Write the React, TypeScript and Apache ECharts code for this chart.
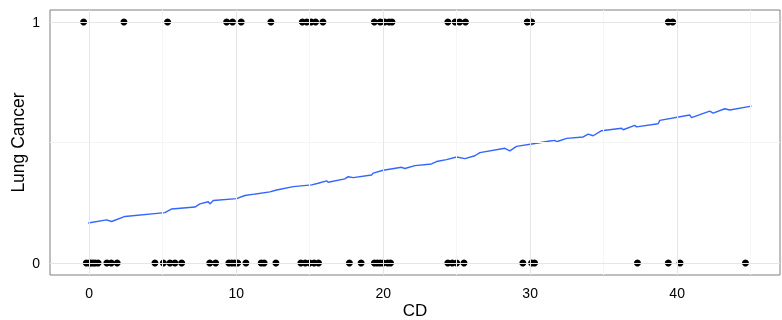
import React, { useEffect, useRef } from "react";
import * as echarts from "echarts";

const xTicks = [0, 10, 20, 30, 40];
const xMinorGrid = [5, 15, 25, 35, 45];
const yTicks = [0, 1];
const yMinorGrid = [0.5];

const cdLung1 = [-0.38, 2.36, 5.33, 9.35, 9.75, 10.34, 12.36, 14.5, 14.8, 15.1, 15.4, 15.9, 19.4, 19.8, 20.1, 20.4, 20.6, 24.4, 24.9, 25.2, 25.6, 29.8, 30.1, 39.4, 39.7];
const cdLung0 = [-0.2, 0, 0.1, 0.25, 0.4, 0.6, 1.2, 1.5, 1.9, 4.47, 5.04, 5.49, 5.83, 6.29, 8.2, 8.6, 9.5, 9.7, 9.9, 10.1, 10.66, 11.7, 11.9, 12.7, 14.4, 14.7, 15.0, 15.3, 15.6, 17.7, 18.5, 19.4, 19.6, 19.8, 20.0, 20.3, 20.5, 24.4, 24.7, 25.0, 25.5, 29.5, 30.1, 30.3, 37.3, 39.4, 40.2, 44.65];

const fitX = [-0.07, 1.18, 1.52, 2.43, 5.15, 5.61, 7.19, 7.53, 8.10, 8.21, 8.44, 10.03, 10.59, 12.29, 12.75, 13.88, 15.13, 15.58, 16.15, 16.26, 17.39, 17.62, 17.96, 19.21, 19.32, 20.0, 21.25, 21.48, 22.16, 23.29, 23.63, 24.31, 25.0, 25.56, 26.24, 26.58, 28.28, 28.62, 29.07, 30.44, 31.34, 31.68, 31.80, 32.48, 33.61, 33.95, 34.29, 34.86, 36.22, 36.33, 37.12, 37.24, 38.71, 38.82, 40.86, 40.98, 42.22, 42.45, 43.24, 43.58, 45.06];
const fitY = [0.166, 0.179, 0.172, 0.193, 0.209, 0.224, 0.232, 0.245, 0.254, 0.245, 0.259, 0.267, 0.280, 0.295, 0.303, 0.317, 0.324, 0.331, 0.341, 0.335, 0.349, 0.358, 0.354, 0.365, 0.373, 0.385, 0.397, 0.392, 0.404, 0.411, 0.421, 0.429, 0.440, 0.433, 0.445, 0.458, 0.476, 0.465, 0.484, 0.497, 0.506, 0.509, 0.503, 0.517, 0.523, 0.535, 0.528, 0.549, 0.559, 0.553, 0.571, 0.565, 0.578, 0.592, 0.614, 0.603, 0.630, 0.622, 0.640, 0.635, 0.651];

const FONT = "'Liberation Sans', Arial, sans-serif";

export default function App() {
  const ref = useRef<HTMLDivElement>(null);
  useEffect(() => {
    if (!ref.current) return;
    const chart = echarts.init(ref.current, null, { renderer: "svg" });
    const points = [
      ...cdLung0.map((x) => [x, 0]),
      ...cdLung1.map((x) => [x, 1]),
    ];
    const lineData = fitX.map((x, i) => [x, fitY[i]]);
    const gridLines = [
      ...xMinorGrid.map((v) => ({ xAxis: v, lineStyle: { color: "#f5f5f5", width: 1, type: "solid" } })),
      ...yMinorGrid.map((v) => ({ yAxis: v, lineStyle: { color: "#f5f5f5", width: 1, type: "solid" } })),
      ...xTicks.map((v) => ({ xAxis: v, lineStyle: { color: "#e6e6e6", width: 1, type: "solid" } })),
      ...yTicks.map((v) => ({ yAxis: v, lineStyle: { color: "#e6e6e6", width: 1, type: "solid" } })),
    ];
    chart.setOption({
      animation: false,
      grid: {
        left: 50,
        right: 2,
        top: 10,
        bottom: 45,
        containLabel: false,
        outerBoundsMode: "none",
        show: true,
        borderColor: "#7f7f7f",
        borderWidth: 1,
        backgroundColor: "#ffffff",
      },
      xAxis: {
        type: "value",
        min: -2.67,
        max: 47.0,
        name: "CD",
        nameLocation: "middle",
        nameGap: 27,
        nameMoveOverlap: false,
        nameTextStyle: { fontFamily: FONT, fontSize: 17, color: "#000", lineHeight: 17 },
        axisLine: { show: false },
        splitLine: { show: false },
        axisTick: { show: true, length: 5, lineStyle: { color: "#7f7f7f" }, customValues: xTicks },
        axisLabel: { customValues: xTicks, fontFamily: FONT, fontSize: 14, color: "#000", margin: 11 },
      },
      yAxis: {
        type: "value",
        min: -0.05,
        max: 1.05,
        name: "Lung Cancer",
        nameLocation: "middle",
        nameGap: 23,
        nameMoveOverlap: false,
        nameRotate: 90,
        nameTextStyle: { fontFamily: FONT, fontSize: 17.5, color: "#000", lineHeight: 18 },
        axisLine: { show: false },
        splitLine: { show: false },
        axisTick: { show: true, length: 5, lineStyle: { color: "#7f7f7f" }, customValues: yTicks },
        axisLabel: { customValues: yTicks, fontFamily: FONT, fontSize: 14, color: "#000", margin: 10 },
      },
      series: [
        {
          type: "line",
          data: [],
          silent: true,
          z: 0,
          markLine: {
            silent: true,
            symbol: "none",
            label: { show: false },
            data: gridLines,
          },
        },
        {
          type: "scatter",
          data: points,
          symbolSize: 7,
          itemStyle: { color: "#000000", opacity: 1 },
          z: 3,
        },
        {
          type: "line",
          data: lineData,
          showSymbol: false,
          lineStyle: { color: "#3366FF", width: 1.4 },
          z: 4,
        },
      ],
    });
    return () => chart.dispose();
  }, []);
  return (
    <div
      ref={ref}
      style={{ position: "fixed", left: 0, top: 0, width: 782, height: 320 }}
    />
  );
}
